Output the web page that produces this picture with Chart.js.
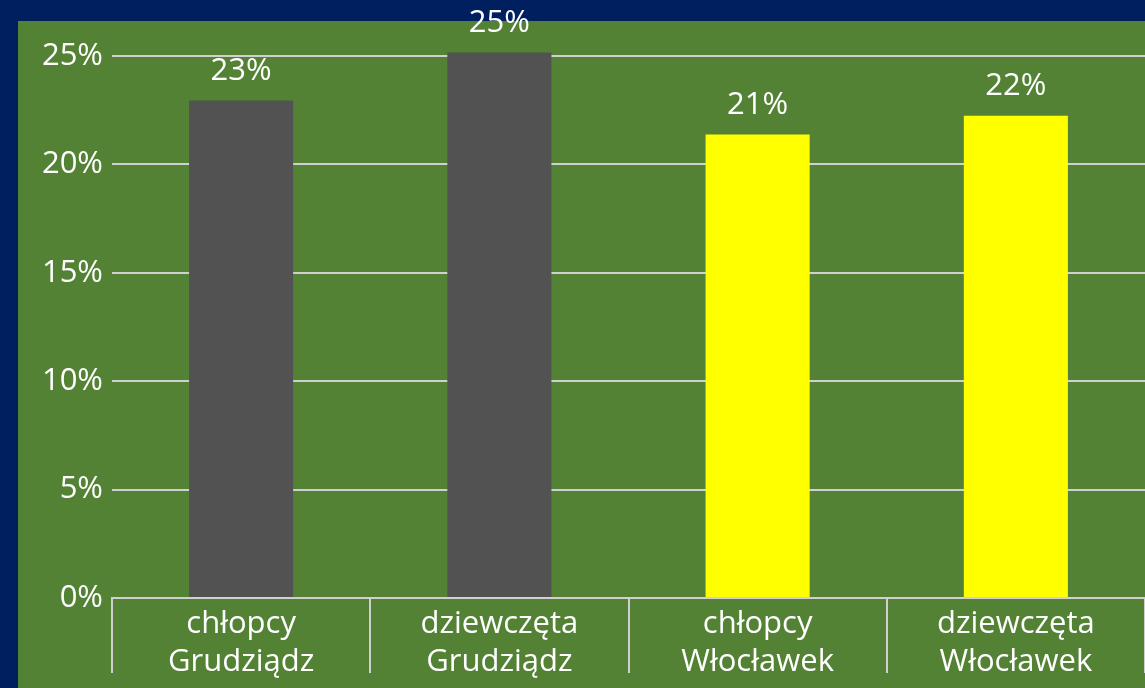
<!DOCTYPE html>
<html>
<head>
<meta charset="utf-8">
<script src="https://cdn.jsdelivr.net/npm/chart.js@4"></script>
<style>
  html, body { margin: 0; padding: 0; background: #001f5f; }
  #wrap { width: 1145px; height: 688px; position: relative; }
</style>
</head>
<body>
<div id="wrap"><canvas id="chart"></canvas></div>
<script>
// data
const categories = [
    ['chłopcy', 'Grudziądz'],
    ['dziewczęta', 'Grudziądz'],
    ['chłopcy', 'Włocławek'],
    ['dziewczęta', 'Włocławek']
];
const shares = [0.2294, 0.2515, 0.2137, 0.2224];
const barColors = ['#525252', '#525252', '#ffff00', '#ffff00'];
const yTicks = [0, 0.05, 0.10, 0.15, 0.20, 0.25];

const FONT = '"Open Sans", "Noto Sans", sans-serif';
const pct = v => Math.round(v * 100) + '%';

// navy frame + green panel behind everything
const panelBg = {
    id: 'panelBg',
    beforeDraw(c) {
        const ctx = c.ctx;
        ctx.save();
        ctx.fillStyle = '#001f5f';
        ctx.fillRect(0, 0, c.width, c.height);
        ctx.fillStyle = '#548235';
        ctx.fillRect(18, 21, c.width - 18, c.height - 21);
        ctx.restore();
    }
};

// value labels above bars (no datalabels plugin offline)
const valueLabels = {
    id: 'valueLabels',
    afterDatasetsDraw(c) {
        const ctx = c.ctx;
        const meta = c.getDatasetMeta(0);
        ctx.save();
        ctx.fillStyle = '#ffffff';
        ctx.font = '31px ' + FONT;
        ctx.textAlign = 'center';
        ctx.textBaseline = 'middle';
        meta.data.forEach((bar, i) => {
            ctx.fillText(pct(shares[i]), bar.x, bar.y - 29);
        });
        ctx.restore();
    }
};

new Chart(document.getElementById('chart'), {
    type: 'bar',
    data: {
        labels: categories,
        datasets: [{
            data: shares,
            backgroundColor: barColors,
            borderWidth: 0,
            categoryPercentage: 1,
            barPercentage: 0.403
        }]
    },
    options: {
        responsive: true,
        maintainAspectRatio: false,
        animation: false,
        layout: { padding: { top: 21, left: 0, right: 0, bottom: 0 } },
        plugins: {
            legend: { display: false },
            tooltip: { enabled: false }
        },
        scales: {
            x: {
                grid: {
                    offset: true,
                    drawOnChartArea: false,
                    drawTicks: true,
                    tickLength: 75,
                    color: '#d0d0d0',
                    lineWidth: 2
                },
                border: { display: true, color: '#d0d0d0', width: 2 },
                ticks: {
                    color: '#ffffff',
                    font: { family: FONT, size: 31, lineHeight: 1.2 },
                    padding: -67,
                    maxRotation: 0,
                    autoSkip: false
                },
                afterFit(scale) { scale.height = 90; }
            },
            y: {
                min: 0,
                max: 0.263,
                afterBuildTicks(scale) {
                    scale.ticks = yTicks.map(v => ({ value: v }));
                },
                grid: { color: '#d0d0d0', lineWidth: 2, drawTicks: false },
                border: { display: false },
                ticks: {
                    color: '#ffffff',
                    font: { family: FONT, size: 31 },
                    padding: 9,
                    callback: v => pct(v)
                },
                afterFit(scale) { scale.width = 112; }
            }
        }
    },
    plugins: [panelBg, valueLabels]
});
</script>
</body>
</html>
